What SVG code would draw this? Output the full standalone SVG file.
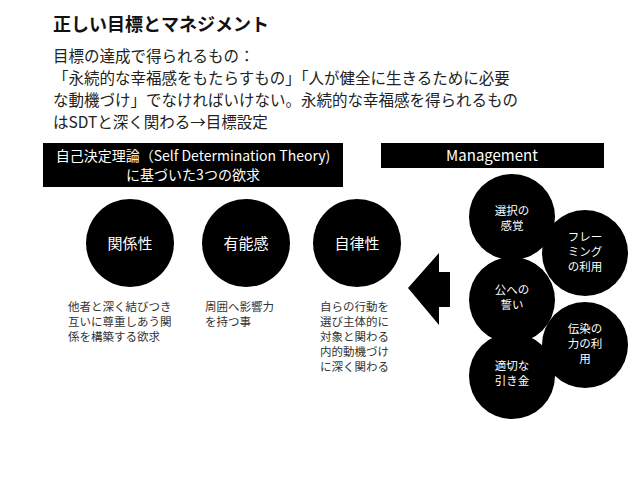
<svg xmlns="http://www.w3.org/2000/svg" width="638" height="479" viewBox="0 0 638 479">
<style>
text{font-family:"Noto Sans CJK JP","Noto Sans",sans-serif}
.h{font-size:15.5px;fill:#222}
.w{fill:#fff;text-anchor:middle}
.d{font-size:11.5px;fill:#333}
.c{font-size:11.5px;fill:#fff;text-anchor:middle}
</style>
<rect width="638" height="479" fill="#fff"/>
<text x="53" y="31" font-size="18" font-weight="bold" fill="#111">正しい目標とマネジメント</text>
<text class="h" x="53" y="62">目標の達成で得られるもの：</text>
<text class="h" x="53" y="84">「永続的な幸福感をもたらすもの」「人が健全に生きるために必要</text>
<text class="h" x="53" y="106">な動機づけ」でなければいけない。永続的な幸福感を得られるもの</text>
<text class="h" x="53" y="128">はSDTと深く関わる→目標設定</text>
<g id="sdt-header"><rect x="43" y="143" width="300" height="44" fill="#000"/>
<text class="w" x="193" y="161" font-size="14">自己決定理論（Self Determination Theory)</text>
<text class="w" x="193" y="180" font-size="14">に基づいた3つの欲求</text></g>
<g id="mgmt-header"><rect x="381" y="143" width="223" height="25" fill="#000"/>
<text class="w" x="492" y="161" font-size="15">Management</text></g>
<g id="relatedness"><circle cx="130" cy="243" r="44" fill="#000"/><text class="w" x="130" y="249" font-size="15">関係性</text>
<text class="d" x="68" y="311">他者と深く結びつき</text><text class="d" x="68" y="326">互いに尊重しあう関</text><text class="d" x="68" y="341">係を構築する欲求</text></g>
<g id="competence"><circle cx="246" cy="243" r="44" fill="#000"/><text class="w" x="246" y="249" font-size="15">有能感</text>
<text class="d" x="205" y="311">周囲へ影響力</text><text class="d" x="205" y="326">を持つ事</text></g>
<g id="autonomy"><circle cx="357" cy="243" r="44" fill="#000"/><text class="w" x="357" y="249" font-size="15">自律性</text>
<text class="d" x="320" y="311">自らの行動を</text><text class="d" x="320" y="326">選び主体的に</text><text class="d" x="320" y="341">対象と関わる</text><text class="d" x="320" y="356">内的動機づけ</text><text class="d" x="320" y="371">に深く関わる</text></g>
<g id="connectors"><polygon points="408,288 439,253 439,272 450,272 450,307 439,307 439,325" fill="#000"/></g>
<g id="m1"><circle cx="512" cy="217" r="43" fill="#000"/><text class="c" x="512" y="215">選択の</text><text class="c" x="512" y="230">感覚</text></g>
<g id="m2"><circle cx="585" cy="253" r="43" fill="#000"/><text class="c" x="585" y="241">フレー</text><text class="c" x="585" y="256">ミング</text><text class="c" x="585" y="271">の利用</text></g>
<g id="m3"><circle cx="512" cy="300" r="43" fill="#000"/><text class="c" x="512" y="294">公への</text><text class="c" x="512" y="309">誓い</text></g>
<g id="m4"><circle cx="585" cy="345" r="43" fill="#000"/><text class="c" x="585" y="333">伝染の</text><text class="c" x="585" y="348">力の利</text><text class="c" x="585" y="363">用</text></g>
<g id="m5"><circle cx="512" cy="376" r="43" fill="#000"/><text class="c" x="512" y="370">適切な</text><text class="c" x="512" y="385">引き金</text></g>
</svg>
